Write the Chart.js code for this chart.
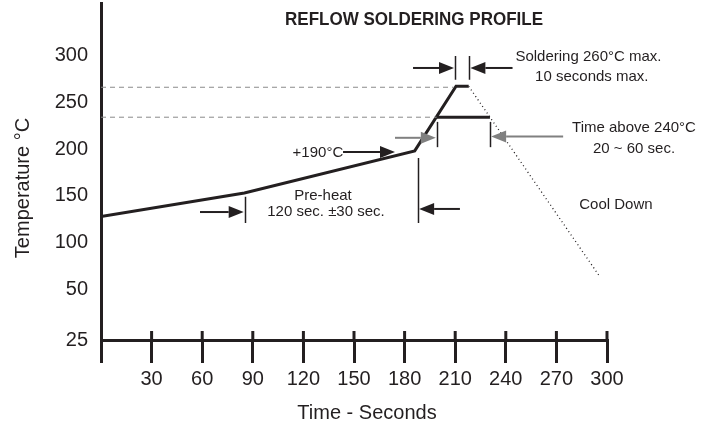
<!DOCTYPE html>
<html>
<head>
<meta charset="utf-8">
<script src="https://cdn.jsdelivr.net/npm/chart.js@4.4.1/dist/chart.umd.min.js"></script>
<style>
  html, body { margin: 0; padding: 0; background: #fff; }
  #wrap { width: 711px; height: 427px; }
</style>
</head>
<body>
<div id="wrap"><canvas id="myChart" width="711" height="427"></canvas></div>
<script>
// profile (time in seconds, temperature on the drawing's own scale)
const profileTime = [0, 85, 186, 210.5, 218];
const profileTemp = [128, 153, 198, 267, 267];
const coolTime = [218, 296];
const coolTemp = [267, 63];
const peakRefTime = [0, 209];
const peakRefTemp = [266, 266];
const liquidRefTime = [0, 199];
const liquidRefTemp = [234, 234];
const aboveTime = [199, 230.6];
const aboveTemp = [234, 234];

// axes
const xTicks = [0, 30, 60, 90, 120, 150, 180, 210, 240, 270, 300];
const xTickLabels = ['', '30', '60', '90', '120', '150', '180', '210', '240', '270', '300'];
const yTickValues = [-4, 50, 100, 150, 200, 250, 300];
const yTickLabels = ['25', '50', '100', '150', '200', '250', '300'];

// annotation marks: [time, tempLow, tempHigh]
const markerLines = [
    [210, 274, 299.4], [218.2, 274, 299.4],
    [199.2, 202, 229], [230.6, 202, 229],
    [85.4, 121, 149], [187.9, 121, 190.4]
];
// arrows: [fromTime, toTime, temp, grey?]
const arrows = [
    [185, 209.3, 286.6, false], [244, 219, 286.6, false],
    [174.3, 198.5, 212, true], [274, 231.3, 213.5, true],
    [58.7, 84.6, 132.7, false], [212.8, 188.6, 136, false],
    [143.5, 174.3, 196.9, false]
];
// texts: [text, time, temp]
const notes = [
    ['Soldering 260°C max.', 289, 298.3],
    ['10 seconds max.', 291, 277],
    ['Time above 240°C', 316, 222.5],
    ['20 ~ 60 sec.', 316, 200],
    ['Cool Down', 305.3, 140],
    ['+190°C', 128.6, 195.8],
    ['Pre-heat', 131.6, 149.8],
    ['120 sec. ±30 sec.', 133.4, 132.7]
];

const INK = '#231f20';
const pts = (xs, ys) => xs.map((x, i) => ({ x: x, y: ys[i] }));

// everything the axes don't do by themselves
const annotate = {
    id: 'annotate',
    afterDraw(chart) {
        const ctx = chart.ctx;
        const xs = chart.scales.x, ys = chart.scales.y;
        const px = v => xs.getPixelForValue(v), py = v => ys.getPixelForValue(v);
        const area = chart.chartArea;
        ctx.save();

        // tick stubs above the time axis
        ctx.strokeStyle = INK;
        ctx.lineWidth = 3;
        xTicks.slice(1).forEach(t => {
            ctx.beginPath();
            ctx.moveTo(px(t), area.bottom - 9);
            ctx.lineTo(px(t), area.bottom);
            ctx.stroke();
        });

        ctx.lineWidth = 1.5;
        markerLines.forEach(m => {
            const x = Math.round(px(m[0])) + 0.5;
            ctx.beginPath();
            ctx.moveTo(x, py(m[1]));
            ctx.lineTo(x, py(m[2]));
            ctx.stroke();
        });

        arrows.forEach(a => {
            const col = a[3] ? '#808080' : INK;
            const x0 = px(a[0]), x1 = px(a[1]), y = py(a[2]);
            const dir = x1 > x0 ? 1 : -1;
            const head = 15;
            ctx.strokeStyle = col;
            ctx.fillStyle = col;
            ctx.lineWidth = 2;
            ctx.beginPath();
            ctx.moveTo(x0, y);
            ctx.lineTo(x1 - dir * head, y);
            ctx.stroke();
            ctx.beginPath();
            ctx.moveTo(x1, y);
            ctx.lineTo(x1 - dir * head, y - 6);
            ctx.lineTo(x1 - dir * head, y + 6);
            ctx.closePath();
            ctx.fill();
        });

        ctx.fillStyle = INK;
        ctx.textAlign = 'center';
        ctx.textBaseline = 'middle';
        ctx.font = '15px "Liberation Sans", Arial, sans-serif';
        notes.forEach(n => ctx.fillText(n[0], px(n[1]), py(n[2])));

        // title, condensed bold
        ctx.font = 'bold 19px "Liberation Sans", Arial, sans-serif';
        const title = 'REFLOW SOLDERING PROFILE';
        const w = ctx.measureText(title).width;
        ctx.save();
        ctx.translate(414, 20);
        ctx.scale(258 / w, 1);
        ctx.fillText(title, 0, 0);
        ctx.restore();

        // axis titles
        ctx.font = '20px "Liberation Sans", Arial, sans-serif';
        ctx.fillText('Time - Seconds', 367, 413);
        ctx.save();
        ctx.translate(23, 188);
        ctx.rotate(-Math.PI / 2);
        ctx.fillText('Temperature °C', 0, 0);
        ctx.restore();

        ctx.restore();
    }
};

const ctx = document.getElementById('myChart').getContext('2d');
new Chart(ctx, {
    type: 'line',
    data: {
        datasets: [
            { data: pts(peakRefTime, peakRefTemp), borderColor: '#8a8a8a', borderWidth: 1, borderDash: [5, 4] },
            { data: pts(liquidRefTime, liquidRefTemp), borderColor: '#8a8a8a', borderWidth: 1, borderDash: [5, 4] },
            { data: pts(coolTime, coolTemp), borderColor: INK, borderWidth: 1.3, borderDash: [1, 3] },
            { data: pts(aboveTime, aboveTemp), borderColor: INK, borderWidth: 3 },
            { data: pts(profileTime, profileTemp), borderColor: INK, borderWidth: 3 }
        ]
    },
    options: {
        responsive: false,
        animation: false,
        events: [],
        elements: { point: { radius: 0 }, line: { tension: 0, fill: false } },
        layout: { padding: { top: 3, right: 104, left: 0, bottom: 0 } },
        plugins: { legend: { display: false }, tooltip: { enabled: false }, title: { display: false } },
        scales: {
            x: {
                type: 'linear',
                min: 0,
                max: 300,
                afterBuildTicks: s => { s.ticks = xTicks.map(v => ({ value: v })); },
                afterFit: s => { s.height = 87; s.paddingLeft = 0; s.paddingRight = 0; },
                grid: { drawOnChartArea: false, drawTicks: true, tickLength: 23, color: INK, lineWidth: 3 },
                border: { display: true, color: INK, width: 3 },
                ticks: {
                    autoSkip: false, maxRotation: 0, padding: 4, color: INK,
                    font: { family: '"Liberation Sans", Arial, sans-serif', size: 20 },
                    callback: (v, i) => xTickLabels[i]
                }
            },
            y: {
                type: 'linear',
                min: -4,
                max: 356,
                afterBuildTicks: s => { s.ticks = yTickValues.map(v => ({ value: v })); },
                afterFit: s => { s.width = 101; s.paddingTop = 0; s.paddingBottom = 0; },
                grid: { drawOnChartArea: false, drawTicks: false, color: 'rgba(0,0,0,0)' },
                border: { display: true, color: INK, width: 3 },
                ticks: {
                    padding: 13, color: INK,
                    font: { family: '"Liberation Sans", Arial, sans-serif', size: 20 },
                    callback: (v, i) => yTickLabels[i]
                }
            }
        }
    },
    plugins: [annotate]
});
</script>
</body>
</html>
